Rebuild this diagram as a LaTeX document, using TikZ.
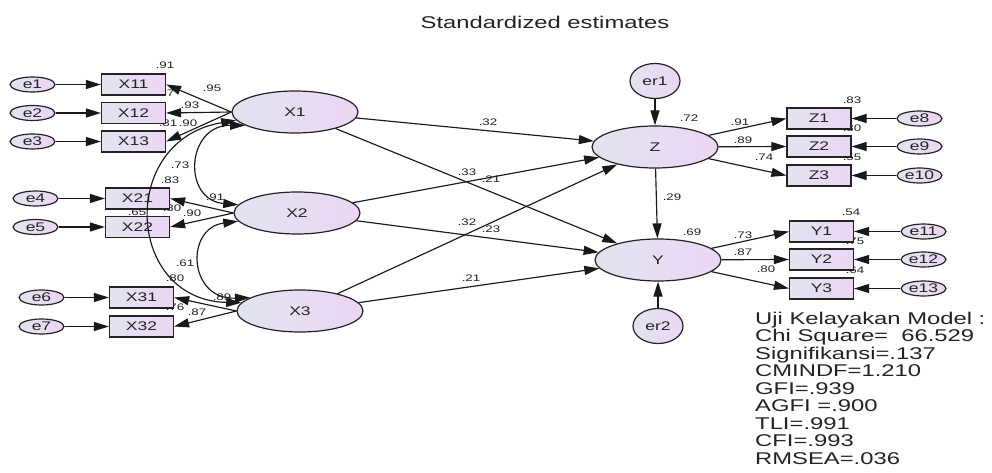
\documentclass[tikz,border=0pt]{standalone}
\usepackage{fontspec}
\setmainfont{Liberation Sans}[FakeStretch=1.4]
\usetikzlibrary{arrows.meta,shapes.geometric}
\definecolor{fillL}{RGB}{226,228,240}
\definecolor{fillR}{RGB}{236,214,244}
\definecolor{ink}{RGB}{35,35,35}
\begin{document}
\begin{tikzpicture}[x=1pt,y=-1pt,
  base/.style={draw=ink, line width=1.2pt, left color=fillL, right color=fillR, inner sep=0pt, text=ink, font=\fontsize{12.5}{14}\selectfont},
  lat/.style={base, ellipse, minimum width=126pt, minimum height=42pt},
  obs/.style={base, rectangle, minimum width=64pt, minimum height=21pt},
  err/.style={base, ellipse, minimum width=45pt, minimum height=15pt},
  res/.style={base, ellipse, minimum width=50pt, minimum height=35pt},
  arr/.style={-{Triangle[length=15pt,width=9pt]}, line width=1.15pt, draw=black!90},
  cov/.style={{Triangle[length=15pt,width=9pt]}-{Triangle[length=15pt,width=9pt]}, line width=1.15pt, draw=black!90},
  num/.style={font=\fontsize{9.5}{11}\selectfont, inner sep=0pt, text=ink},
  fit/.style={font=\fontsize{17}{19}\selectfont, inner sep=0pt, text=ink, anchor=base west},
]
\useasboundingbox (0,0) rectangle (992,473);
\fill[white] (0,0) rectangle (992,473);

\node[font=\fontsize{17}{19}\selectfont, text=ink, inner sep=0pt] (title) at (545,22) {Standardized estimates};

% numeric labels
\node[num] (l1) at (165,65) {.91};
\node[num] (l2) at (212,88) {.95};
\node[num] (l3) at (165,93) {.87};
\node[num] (l4) at (190,105) {.93};
\node[num] (l5) at (168,123) {.81};
\node[num] (l6) at (188,123) {.90};
\node[num] (l7) at (180,165) {.73};
\node[num] (l8) at (170,180) {.83};
\node[num] (l9) at (215,197) {.91};
\node[num] (l10) at (172,208) {.80};
\node[num] (l11) at (192,213) {.90};
\node[num] (l12) at (137,212) {.65};
\node[num] (l13) at (185,263) {.61};
\node[num] (l14) at (175,278) {.80};
\node[num] (l15) at (222,297) {.89};
\node[num] (l16) at (175,307) {.76};
\node[num] (l17) at (197,312) {.87};
\node[num] (m1) at (488,122) {.32};
\node[num] (m2) at (467,172) {.33};
\node[num] (m3) at (491,179) {.21};
\node[num] (m4) at (467,222) {.32};
\node[num] (m5) at (491,229) {.23};
\node[num] (m6) at (471,278) {.21};
\node[num] (r1) at (689,118) {.72};
\node[num] (r2) at (740,122) {.91};
\node[num] (r3) at (743,140) {.89};
\node[num] (r4) at (764,157) {.74};
\node[num] (r5) at (852,100) {.83};
\node[num] (r6) at (852,128) {.80};
\node[num] (r7) at (852,157) {.55};
\node[num] (r8) at (672,197) {.29};
\node[num] (r9) at (692,232) {.69};
\node[num] (r10) at (743,235) {.73};
\node[num] (r11) at (743,252) {.87};
\node[num] (r12) at (766,269) {.80};
\node[num] (r13) at (851,212) {.54};
\node[num] (r14) at (855,241) {.75};
\node[num] (r15) at (855,270) {.64};

% observed indicators and errors
\node[obs] (X11) at (133.5,84.5) {X11};
\node[obs] (X12) at (133.5,113) {X12};
\node[obs] (X13) at (133.5,141.5) {X13};
\node[obs] (X21) at (137.5,198.5) {X21};
\node[obs] (X22) at (137.5,227) {X22};
\node[obs] (X31) at (141.5,297.5) {X31};
\node[obs] (X32) at (141.5,326.5) {X32};
\node[err] (e1) at (32.5,84.5) {e1};
\node[err] (e2) at (32.5,113) {e2};
\node[err] (e3) at (32.5,141.5) {e3};
\node[err] (e4) at (35.5,198.5) {e4};
\node[err] (e5) at (35.5,227) {e5};
\node[err] (e6) at (41.5,297.5) {e6};
\node[err] (e7) at (41.5,326.5) {e7};

\node[lat] (X1) at (295,112) {X1};
\node[lat] (X2) at (297,213) {X2};
\node[lat] (X3) at (300,311) {X3};
\node[lat] (Z) at (655,147) {Z};
\node[lat] (Y) at (658,260) {Y};
\node[res] (er1) at (655,81) {er1};
\node[res] (er2) at (658,326) {er2};

\node[obs] (Z1) at (819,118.5) {Z1};
\node[obs] (Z2) at (819,146.5) {Z2};
\node[obs] (Z3) at (819,175.5) {Z3};
\node[err] (e8) at (919.5,118.5) {e8};
\node[err] (e9) at (919.5,146.5) {e9};
\node[err] (e10) at (919.5,175.5) {e10};
\node[obs] (Y1) at (821.5,231.5) {Y1};
\node[obs] (Y2) at (821.5,259.5) {Y2};
\node[obs] (Y3) at (821.5,288.5) {Y3};
\node[err] (e11) at (923.5,231.5) {e11};
\node[err] (e12) at (923.5,259.5) {e12};
\node[err] (e13) at (923.5,288.5) {e13};

% fit indices
\node[fit] (t1) at (755,324) {Uji Kelayakan Model :};
\node[fit] (t2) at (755,341.5) {Chi Square=\ \ 66.529};
\node[fit] (t3) at (755,359) {Signifikansi=.137};
\node[fit] (t4) at (755,376.5) {CMINDF=1.210};
\node[fit] (t5) at (755,394) {GFI=.939};
\node[fit] (t6) at (755,411.5) {AGFI =.900};
\node[fit] (t7) at (755,429) {TLI=.991};
\node[fit] (t8) at (755,446.5) {CFI=.993};
\node[fit] (t9) at (755,464) {RMSEA=.036};

% error arrows
\foreach \e/\x in {e1/X11,e2/X12,e3/X13,e4/X21,e5/X22,e6/X31,e7/X32,e8/Z1,e9/Z2,e10/Z3,e11/Y1,e12/Y2,e13/Y3}
  \draw[arr] (\e) -- (\x);

% loadings
\draw[arr] (X1.west) -- (X11.east);
\draw[arr] (X1.west) -- (X12.east);
\draw[arr] (X1.west) -- (X13.east);
\draw[arr] (X2.west) -- (X21.east);
\draw[arr] (X2.west) -- (X22.east);
\draw[arr] (X3.west) -- (X31.east);
\draw[arr] (X3.west) -- (X32.east);
\draw[arr] (Z) -- (Z1.west);
\draw[arr] (Z) -- (Z2.west);
\draw[arr] (Z) -- (Z3.west);
\draw[arr] (Y) -- (Y1.west);
\draw[arr] (Y) -- (Y2.west);
\draw[arr] (Y) -- (Y3.west);

% structural paths
\draw[arr] (X1) -- (Z);
\draw[arr] (X1) -- (Y);
\draw[arr] (X2) -- (Z);
\draw[arr] (X2) -- (Y);
\draw[arr] (X3) -- (Z);
\draw[arr] (X3) -- (Y);
\draw[arr] (Z) -- (Y);
\draw[arr] (er1) -- (Z);
\draw[arr] (er2) -- (Y);

% covariances
\draw[cov] (X1.188) .. controls (118,140) and (125,300) .. (X3.172);
\draw[cov] (X1.195) .. controls (186,125) and (182,200) .. (X2.172);
\draw[cov] (X2.188) .. controls (185,228) and (188,300) .. (X3.165);
\end{tikzpicture}
\end{document}
